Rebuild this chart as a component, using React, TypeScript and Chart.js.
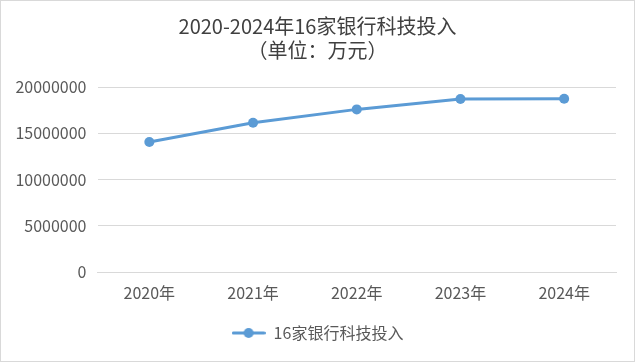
import React, { useEffect, useRef } from "react";
import { Chart, registerables } from "chart.js";

Chart.register(...registerables);

const categories = ["2020年", "2021年", "2022年", "2023年", "2024年"];
const investValues = [14050000, 16140000, 17580000, 18700000, 18730000];
const seriesName = "16家银行科技投入";
const titleLines = ["2020-2024年16家银行科技投入", "（单位：万元）"];
const yMin = 0;
const yMax = 20000000;
const yStep = 5000000;

const COLOR = "#5b9bd5";
const FONT = "'Noto Sans CJK SC', 'Noto Sans', sans-serif";

function makeLegendIcon(): HTMLCanvasElement {
  const c = document.createElement("canvas");
  c.width = 34;
  c.height = 12;
  const ctx = c.getContext("2d")!;
  ctx.strokeStyle = COLOR;
  ctx.lineWidth = 3;
  ctx.lineCap = "round";
  ctx.beginPath();
  ctx.moveTo(1.5, 6);
  ctx.lineTo(32.5, 6);
  ctx.stroke();
  ctx.fillStyle = COLOR;
  ctx.beginPath();
  ctx.arc(17, 6, 5, 0, Math.PI * 2);
  ctx.fill();
  return c;
}

export default function App() {
  const ref = useRef<HTMLCanvasElement | null>(null);

  useEffect(() => {
    if (!ref.current) return;
    const icon = makeLegendIcon();
    const chart = new Chart(ref.current, {
      type: "line",
      data: {
        labels: categories,
        datasets: [
          {
            label: seriesName,
            data: investValues,
            borderColor: COLOR,
            backgroundColor: COLOR,
            borderWidth: 3,
            tension: 0,
            pointRadius: 5,
            pointHoverRadius: 5,
            pointBackgroundColor: COLOR,
            pointBorderWidth: 0,
            pointStyle: "circle",
          },
        ],
      },
      options: {
        responsive: false,
        animation: false,
        devicePixelRatio: 1,
        layout: { padding: { left: 0, right: 0, top: 0, bottom: 10 } },
        plugins: {
          title: {
            display: true,
            text: titleLines,
            color: "#404040",
            font: { family: FONT, size: 20, weight: "normal", lineHeight: 1.2 },
            padding: { top: 13, bottom: 25 },
          },
          legend: {
            display: true,
            position: "bottom",
            labels: {
              color: "#595959",
              font: { family: FONT, size: 16 },
              usePointStyle: true,
              pointStyleWidth: 34,
              padding: 10,
              generateLabels: (ch: any) =>
                ch.data.datasets.map((ds: any, i: number) => ({
                  text: ds.label,
                  fillStyle: COLOR,
                  strokeStyle: COLOR,
                  lineWidth: 0,
                  pointStyle: icon,
                  hidden: false,
                  datasetIndex: i,
                  fontColor: "#595959",
                })),
            },
          },
          tooltip: { enabled: false },
        },
        scales: {
          x: {
            type: "category",
            offset: true,
            grid: { display: false, drawTicks: false },
            border: { display: true, color: "#d9d9d9", width: 1 },
            ticks: {
              color: "#595959",
              font: { family: FONT, size: 16 },
              padding: 11,
              maxRotation: 0,
            },
            afterFit: (s: any) => {
              s.height = 43;
              s.paddingRight = 18;
            },
          },
          y: {
            min: yMin,
            max: yMax,
            grid: { color: "#d9d9d9", lineWidth: 1, drawTicks: false },
            border: { display: false },
            ticks: {
              stepSize: yStep,
              color: "#595959",
              font: { family: FONT, size: 16 },
              padding: 11,
              callback: (v: any) => String(v),
            },
            afterFit: (s: any) => {
              s.width = 96.5;
            },
          },
        },
      },
    });
    return () => chart.destroy();
  }, []);

  return (
    <div
      style={{
        position: "absolute",
        left: 0,
        top: 0,
        width: 635,
        height: 362,
        border: "1px solid #d9d9d9",
        boxSizing: "border-box",
        background: "#fff",
      }}
    >
      <canvas ref={ref} width={633} height={360} style={{ display: "block", width: 633, height: 360 }} />
    </div>
  );
}
